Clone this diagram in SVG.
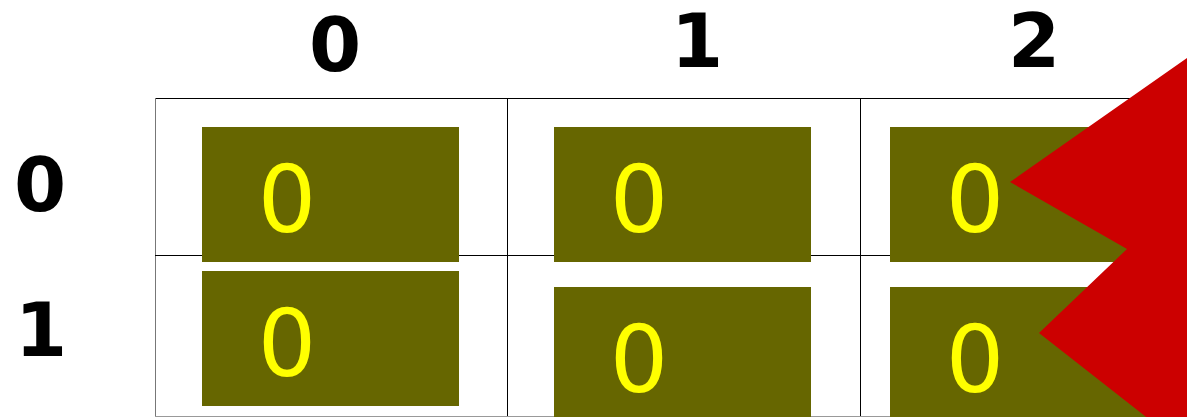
<svg xmlns="http://www.w3.org/2000/svg" width="1187" height="417" viewBox="0 0 1187 417">
<style>
.hdr{font-family:"DejaVu Sans",Verdana,sans-serif;font-weight:bold;font-size:75px;fill:#000;text-anchor:middle}
.cellbox{fill:#666600}
.val{font-family:"DejaVu Sans",Verdana,sans-serif;font-size:92px;fill:#ffff00;text-anchor:middle}
.grid{stroke:#000;stroke-width:1;fill:none}
</style>
<rect width="1187" height="417" fill="#fff"/>
<g id="grid">
<line class="grid" x1="155" y1="98.5" x2="1187" y2="98.5" stroke="#333"/>
<line class="grid" x1="155.5" y1="98" x2="155.5" y2="417" style="stroke:#777"/>
<line class="grid" x1="155" y1="255.5" x2="1187" y2="255.5"/>
<line class="grid" x1="507.5" y1="98" x2="507.5" y2="417"/>
<line class="grid" x1="860.5" y1="98" x2="860.5" y2="417"/>
<line class="grid" x1="155" y1="416.5" x2="1187" y2="416.5" style="stroke:#999"/>
</g>
<g id="headers">
<text class="hdr" x="335" y="71">0</text>
<text class="hdr" x="697" y="67">1</text>
<text class="hdr" x="1034" y="67">2</text>
<text class="hdr" x="40" y="211">0</text>
<text class="hdr" x="41" y="356">1</text>
</g>
<g id="cell-0-0"><rect class="cellbox" x="202" y="127" width="257" height="135"/><text class="val" x="287" y="232">0</text></g>
<g id="cell-0-1"><rect class="cellbox" x="554" y="127" width="257" height="135"/><text class="val" x="639" y="232">0</text></g>
<g id="cell-0-2"><rect class="cellbox" x="890" y="127" width="257" height="135"/><text class="val" x="975" y="232">0</text></g>
<g id="cell-1-0"><rect class="cellbox" x="202" y="271" width="257" height="135"/><text class="val" x="287" y="376">0</text></g>
<g id="cell-1-1"><rect class="cellbox" x="554" y="287" width="257" height="135"/><text class="val" x="639" y="392">0</text></g>
<g id="cell-1-2"><rect class="cellbox" x="890" y="287" width="257" height="135"/><text class="val" x="975" y="392">0</text></g>
<g id="pointer"><polygon points="1187,58 1010,182 1127,249 1039,333 1187,449" fill="#cc0000"/></g>
</svg>
